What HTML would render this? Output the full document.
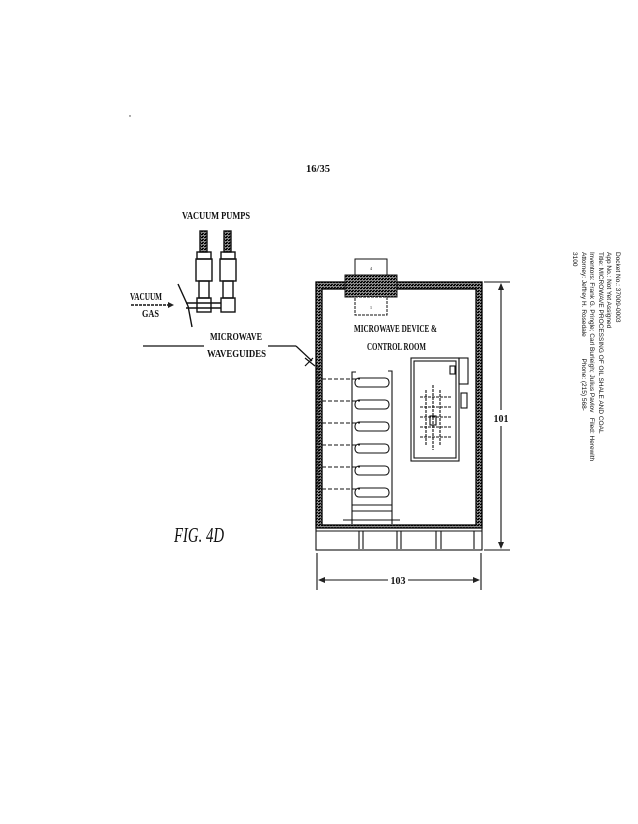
<!DOCTYPE html>
<html><head><meta charset="utf-8"><style>
html,body{margin:0;padding:0;background:#fff;}
body{width:638px;height:824px;position:relative;overflow:hidden;}
svg{position:absolute;left:0;top:0;}
.t{font-family:"Liberation Serif",serif;font-size:10px;font-weight:bold;fill:#111;}
.side{position:absolute;left:565px;top:252px;width:200px;transform-origin:0 0;transform:translate(56px,0) rotate(90deg);font-family:"Liberation Sans",sans-serif;font-size:6.5px;line-height:8.5px;color:#111;white-space:nowrap;}
</style></head><body>
<svg width="638" height="824" viewBox="0 0 638 824">
<defs>
<pattern id="h" width="3" height="3" patternUnits="userSpaceOnUse"><rect width="3" height="3" fill="#888"/><rect width="2" height="1" fill="#000"/><rect x="1" y="2" width="2" height="1" fill="#111"/></pattern>
</defs>
<circle cx="130" cy="116" r="0.7" fill="#333"/>
<text x="318" y="172" class="t" text-anchor="middle" font-size="11" font-weight="normal" textLength="24" lengthAdjust="spacingAndGlyphs">16/35</text>

<!-- pumps -->
<text x="182" y="219" class="t" textLength="68" lengthAdjust="spacingAndGlyphs">VACUUM PUMPS</text>
<g stroke="#111" fill="none" stroke-width="1.4">
<rect x="200" y="231" width="7" height="21" fill="url(#h)"/>
<rect x="224" y="231" width="7" height="21" fill="url(#h)"/>
<rect x="197" y="252" width="14" height="7"/><rect x="221" y="252" width="14" height="7"/>
<rect x="196" y="259" width="16" height="22"/><rect x="220" y="259" width="16" height="22"/>
<rect x="199" y="281" width="10" height="17"/><rect x="223" y="281" width="10" height="17"/>
<rect x="197" y="298" width="14" height="14"/><rect x="221" y="298" width="14" height="14"/>
<line x1="186" y1="303" x2="221" y2="303"/><line x1="186" y1="308" x2="221" y2="308"/>
<line x1="178" y1="284" x2="188" y2="306"/><line x1="188" y1="306" x2="192" y2="327"/>
<line x1="131" y1="305" x2="168" y2="305" stroke-dasharray="3,1"/>
</g>
<path d="M168 302 L174 305 L168 308Z" fill="#222"/>
<text x="130" y="300" class="t" textLength="32" lengthAdjust="spacingAndGlyphs">VACUUM</text>
<text x="142" y="317" class="t" textLength="17" lengthAdjust="spacingAndGlyphs">GAS</text>
<text x="210" y="340" class="t" textLength="52" lengthAdjust="spacingAndGlyphs">MICROWAVE</text>
<text x="207" y="357" class="t" textLength="59" lengthAdjust="spacingAndGlyphs">WAVEGUIDES</text>
<g stroke="#111" stroke-width="1.2" fill="none">
<line x1="143" y1="346" x2="204" y2="346"/><line x1="268" y1="346" x2="296" y2="346"/>
<line x1="296" y1="346" x2="312" y2="361"/>
<line x1="305" y1="358" x2="315" y2="366"/><line x1="305" y1="366" x2="313" y2="358"/>
</g>

<!-- enclosure -->
<rect x="316" y="282" width="166" height="246" fill="url(#h)" stroke="#000" stroke-width="1.3"/>
<rect x="322" y="289" width="154" height="236" fill="#fff" stroke="#000" stroke-width="1.3"/>
<!-- top device -->
<rect x="355" y="259" width="32" height="16" fill="#fff" stroke="#111"/>
<rect x="345" y="275" width="52" height="22" fill="url(#h)" stroke="#111"/>
<rect x="355" y="297" width="32" height="18" fill="#fff" stroke="#111" stroke-dasharray="3,1"/>
<text x="371" y="270" font-size="4" text-anchor="middle">4</text>
<text x="371" y="309" font-size="4" text-anchor="middle">1</text>
<text x="354" y="332" class="t" textLength="83" lengthAdjust="spacingAndGlyphs">MICROWAVE DEVICE &amp;</text>
<text x="367" y="350" class="t" textLength="59" lengthAdjust="spacingAndGlyphs">CONTROL ROOM</text>
<!-- rack -->
<g stroke="#111" stroke-width="1.1" fill="none">
<path d="M352 524 V372 h4 M392 524 V371 h-4"/>
<rect x="355" y="378" width="34" height="9" rx="4"/>
<rect x="355" y="400" width="34" height="9" rx="4"/>
<rect x="355" y="422" width="34" height="9" rx="4"/>
<rect x="355" y="444" width="34" height="9" rx="4"/>
<rect x="355" y="466" width="34" height="9" rx="4"/>
<rect x="355" y="488" width="34" height="9" rx="4"/>
<line x1="352" y1="505" x2="392" y2="505"/><line x1="352" y1="511" x2="392" y2="511"/>
<line x1="343" y1="520" x2="400" y2="520"/>
<path d="M318 366 V488 h4" stroke-dasharray="4,1"/>
<g stroke-dasharray="4,2"><line x1="322" y1="379" x2="360" y2="379"/><line x1="322" y1="401" x2="360" y2="401"/><line x1="322" y1="423" x2="360" y2="423"/><line x1="322" y1="445" x2="360" y2="445"/><line x1="322" y1="467" x2="360" y2="467"/><line x1="322" y1="489" x2="360" y2="489"/></g>
<!-- control panel -->
<rect x="411" y="358" width="48" height="103"/>
<rect x="414" y="361" width="42" height="97"/>
<rect x="459" y="358" width="9" height="26"/>
<rect x="461" y="393" width="6" height="15"/>
<rect x="450" y="366" width="5" height="8"/>
<g stroke-dasharray="3,1"><line x1="420" y1="397" x2="452" y2="397"/><line x1="420" y1="407" x2="452" y2="407"/><line x1="420" y1="417" x2="452" y2="417"/><line x1="420" y1="427" x2="452" y2="427"/><line x1="420" y1="437" x2="452" y2="437"/>
<line x1="426" y1="390" x2="426" y2="445"/><line x1="433" y1="385" x2="433" y2="450"/><line x1="440" y1="390" x2="440" y2="445"/></g>
<rect x="430" y="416" width="6" height="9"/>
<!-- floor -->
<rect x="316" y="528" width="166" height="22"/>
<line x1="316" y1="531" x2="482" y2="531"/>
<line x1="359" y1="531" x2="359" y2="549"/><line x1="363" y1="531" x2="363" y2="549"/>
<line x1="397" y1="531" x2="397" y2="549"/><line x1="401" y1="531" x2="401" y2="549"/>
<line x1="436" y1="531" x2="436" y2="549"/><line x1="441" y1="531" x2="441" y2="549"/>
<line x1="474" y1="531" x2="474" y2="549"/>
<!-- dims -->
<line x1="484" y1="282" x2="510" y2="282"/><line x1="484" y1="550" x2="510" y2="550"/>
<line x1="501" y1="284" x2="501" y2="410"/><line x1="501" y1="426" x2="501" y2="548"/>
<line x1="317" y1="553" x2="317" y2="590"/><line x1="481" y1="553" x2="481" y2="590"/>
<line x1="319" y1="580" x2="388" y2="580"/><line x1="408" y1="580" x2="479" y2="580"/>
</g>
<path d="M498 290 L501 283 L504 290Z M498 542 L501 549 L504 542Z M325 577 L318 580 L325 583Z M473 577 L480 580 L473 583Z" fill="#222"/>
<text x="501" y="422" class="t" text-anchor="middle" font-size="11" font-weight="normal">101</text>
<text x="398" y="584" class="t" text-anchor="middle" font-size="11" font-weight="normal">103</text>
<text x="174" y="542" font-family="Liberation Serif,serif" font-style="italic" font-size="21" fill="#111" textLength="50" lengthAdjust="spacingAndGlyphs">FIG. 4D</text>
</svg>
<div class="side">Docket No.: 37009-0003<br>App No.: Not Yet Assigned<br>Title: MICROWAVE PROCESSING OF OIL SHALE AND COAL<br>Inventors: Frank G. Pringle; Carl Burleigh; Julius Pavlov&nbsp;&nbsp;&nbsp;Filed: Herewith<br>Attorney: Jeffrey H. Rosedale&nbsp;&nbsp;&nbsp;&nbsp;&nbsp;&nbsp;&nbsp;&nbsp;&nbsp;&nbsp;&nbsp;&nbsp;Phone: (215) 568-<br>3100</div>
</body></html>
